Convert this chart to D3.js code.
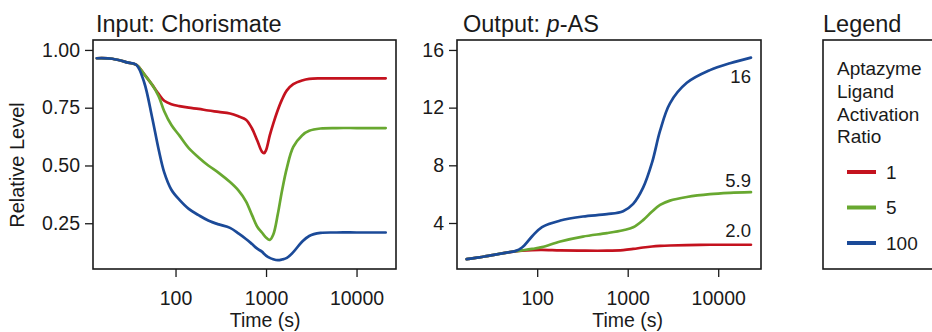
<!DOCTYPE html>
<html>
<head>
<meta charset="utf-8">
<script src="https://cdn.jsdelivr.net/npm/d3@7"></script>
<style>
  body { margin: 0; background: #fff; }
  svg { display: block; font-family: "Liberation Sans", Arial, sans-serif; }
</style>
</head>
<body>
<svg id="chart" width="932" height="332"></svg>
<script>
// ---- data ----
const ratioLabels = ["1", "5", "100"];
const seriesColors = ["#c4121e", "#68a830", "#1b4a98"];

// Input: chorismate, relative level over time (s)
const inputTime = [13.5, 20, 30, 37, 45, 55, 65, 75, 90, 110, 140, 180, 230, 300, 400, 500, 600, 700, 800, 900, 950, 1000, 1100, 1200, 1350, 1500, 1700, 2000, 2500, 3000, 4000, 6000, 10000, 15000, 21000];
const inputRatio1 = [0.964, 0.962, 0.945, 0.935, 0.895, 0.85, 0.81, 0.78, 0.765, 0.757, 0.75, 0.745, 0.738, 0.732, 0.725, 0.712, 0.698, 0.66, 0.608, 0.56, 0.553, 0.566, 0.63, 0.68, 0.74, 0.785, 0.825, 0.852, 0.868, 0.875, 0.877, 0.877, 0.877, 0.877, 0.877];
const inputRatio5 = [0.964, 0.962, 0.945, 0.935, 0.895, 0.85, 0.80, 0.735, 0.675, 0.63, 0.575, 0.535, 0.50, 0.468, 0.428, 0.39, 0.345, 0.285, 0.235, 0.21, 0.198, 0.188, 0.178, 0.20, 0.29, 0.39, 0.49, 0.58, 0.63, 0.65, 0.66, 0.662, 0.662, 0.662, 0.662];
const inputRatio100 = [0.964, 0.962, 0.945, 0.935, 0.86, 0.71, 0.57, 0.47, 0.395, 0.352, 0.312, 0.285, 0.262, 0.245, 0.23, 0.205, 0.182, 0.16, 0.14, 0.127, 0.118, 0.11, 0.10, 0.094, 0.09, 0.093, 0.10, 0.125, 0.17, 0.195, 0.208, 0.21, 0.21, 0.21, 0.21];

// Output: p-AS level over time (s)
const outputTime = [16.6, 23, 32, 46, 57, 68, 88, 113, 180, 320, 590, 890, 1150, 1480, 1860, 2280, 2930, 4500, 8100, 13500, 23000];
const outputRatio1 = [1.5, 1.62, 1.77, 1.95, 2.03, 2.08, 2.12, 2.13, 2.10, 2.08, 2.08, 2.12, 2.20, 2.30, 2.37, 2.41, 2.44, 2.47, 2.49, 2.49, 2.49];
const outputRatio5 = [1.5, 1.62, 1.77, 1.95, 2.04, 2.10, 2.20, 2.33, 2.72, 3.06, 3.30, 3.50, 3.70, 4.20, 4.80, 5.25, 5.55, 5.80, 6.00, 6.09, 6.14];
const outputRatio100 = [1.5, 1.62, 1.77, 1.95, 2.05, 2.30, 3.08, 3.72, 4.17, 4.45, 4.61, 4.82, 5.33, 6.45, 8.20, 10.4, 12.3, 13.72, 14.6, 15.08, 15.47];
const foldLabels = ["2.0", "5.9", "16"];

const inputTicks = [0.25, 0.50, 0.75, 1.00];
const outputTicks = [4, 8, 12, 16];
const timeTicks = [100, 1000, 10000];

// ---- drawing ----
const svg = d3.select("#chart");
const ink = "#1a1a1a";

function drawPanel(opts) {
  const { x0, x1, y0, y1, xDomain, yDomain, yTicks, yFormat, time, series, title, titleX, xLabelAt } = opts;
  const x = d3.scaleLog().domain(xDomain).range([x0, x1]);
  const y = d3.scaleLinear().domain(yDomain).range([y1, y0]);

  const g = svg.append("g");

  // y axis
  const ya = g.append("g").attr("transform", `translate(${x0},0)`)
    .call(d3.axisLeft(y).tickValues(yTicks).tickFormat(yFormat).tickSize(8).tickPadding(5).tickSizeOuter(0));
  ya.select(".domain").remove();
  ya.selectAll("line").attr("stroke", ink).attr("stroke-width", 1.3);
  ya.selectAll("text").attr("font-size", 19.5).attr("fill", ink).attr("font-family", null);

  // x axis
  const xa = g.append("g").attr("transform", `translate(0,${y1})`)
    .call(d3.axisBottom(x).tickValues(timeTicks).tickFormat(d3.format("d")).tickSize(8).tickPadding(14).tickSizeOuter(0));
  xa.select(".domain").remove();
  xa.selectAll("line").attr("stroke", ink).attr("stroke-width", 1.3);
  xa.selectAll("text").attr("font-size", 19.5).attr("fill", ink).attr("font-family", null);

  // curves
  const line = d3.line()
    .x((d, i) => x(time[i]))
    .y(d => y(d))
    .curve(d3.curveCatmullRom.alpha(0.5));
  series.forEach((vals, k) => {
    g.append("path")
      .attr("d", line(vals))
      .attr("fill", "none")
      .attr("stroke", seriesColors[k])
      .attr("stroke-width", 2.7)
      .attr("stroke-linejoin", "round")
      .attr("stroke-linecap", "round");
  });

  // frame
  g.append("rect")
    .attr("x", x0).attr("y", y0)
    .attr("width", x1 - x0).attr("height", y1 - y0)
    .attr("fill", "none").attr("stroke", ink).attr("stroke-width", 1.6);

  // title
  const t = g.append("text").attr("x", titleX).attr("y", 32)
    .attr("font-size", 23.5).attr("fill", ink);
  title(t);

  // x label
  g.append("text").attr("x", x(xLabelAt)).attr("y", 327)
    .attr("text-anchor", "middle").attr("font-size", 19.5).attr("fill", ink)
    .text("Time (s)");

  return { x, y, g };
}

// Input panel
drawPanel({
  x0: 93, x1: 396, y0: 40, y1: 269,
  xDomain: [12.25, 27290], yDomain: [0.052, 1.043],
  yTicks: inputTicks, yFormat: d3.format(".2f"),
  time: inputTime,
  series: [inputRatio1, inputRatio5, inputRatio100],
  title: t => t.text("Input: Chorismate"),
  titleX: 96, xLabelAt: 980
});

svg.append("text")
  .attr("transform", "translate(24,165) rotate(-90)")
  .attr("text-anchor", "middle").attr("font-size", 20).attr("fill", ink)
  .text("Relative Level");

// Output panel
const out = drawPanel({
  x0: 457, x1: 761, y0: 40, y1: 269,
  xDomain: [13.0, 29700], yDomain: [0.81, 16.69],
  yTicks: outputTicks, yFormat: d3.format("d"),
  time: outputTime,
  series: [outputRatio1, outputRatio5, outputRatio100],
  title: t => {
    t.append("tspan").text("Output: ");
    t.append("tspan").attr("font-style", "italic").text("p");
    t.append("tspan").text("-AS");
  },
  titleX: 463, xLabelAt: 1000
});

// fold-change annotations at the end of each output curve
const endOffsets = [-8, -5, 25];
[outputRatio1, outputRatio5, outputRatio100].forEach((vals, k) => {
  const last = vals.length - 1;
  out.g.append("text")
    .attr("x", out.x(outputTime[last]))
    .attr("y", out.y(vals[last]) + endOffsets[k])
    .attr("text-anchor", "end").attr("font-size", 18.5).attr("fill", ink)
    .text(foldLabels[k]);
});

// Legend
const lg = svg.append("g");
lg.append("text").attr("x", 823).attr("y", 32).attr("font-size", 23.5).attr("fill", ink).text("Legend");
lg.append("rect").attr("x", 823).attr("y", 40).attr("width", 130).attr("height", 229)
  .attr("fill", "none").attr("stroke", ink).attr("stroke-width", 1.6);
["Aptazyme", "Ligand", "Activation", "Ratio"].forEach((s, i) => {
  lg.append("text").attr("x", 837).attr("y", 75 + i * 22.8)
    .attr("font-size", 19).attr("fill", ink).text(s);
});
ratioLabels.forEach((lab, k) => {
  const yy = 172 + k * 35.5;
  lg.append("line").attr("x1", 847).attr("x2", 876).attr("y1", yy).attr("y2", yy)
    .attr("stroke", seriesColors[k]).attr("stroke-width", 4);
  lg.append("text").attr("x", 886).attr("y", yy + 6.5)
    .attr("font-size", 19).attr("fill", ink).text(lab);
});
</script>
</body>
</html>
